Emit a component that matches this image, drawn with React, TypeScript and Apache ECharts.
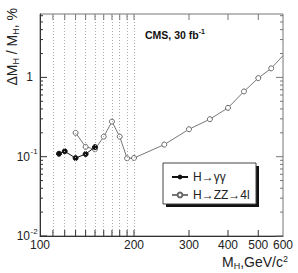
import React, { useEffect, useRef } from "react";
import * as echarts from "echarts";

// ---- data ----
const massGG = [115, 120, 130, 140, 150];
const resGG = [0.109, 0.117, 0.096, 0.108, 0.132];

const massZZ = [130, 140, 150, 160, 170, 180, 190, 200, 250, 300, 350, 400, 450, 500, 550, 600];
const resZZ = [0.2, 0.133, 0.124, 0.179, 0.277, 0.179, 0.0955, 0.0963, 0.142, 0.222, 0.297, 0.413, 0.665, 0.98, 1.3, 1.88];

const massGrid = [110, 120, 130, 140, 150, 160, 170, 180, 190, 200];
const xTickValues = [110, 120, 130, 140, 150, 160, 170, 180, 190, 200, 300, 400, 500];
const xLabelValues = [100, 200, 300, 400, 500, 600];
const yMajorTicks = [0.01, 0.1, 1];
const yMinorTicks = [0.02, 0.03, 0.04, 0.05, 0.06, 0.07, 0.08, 0.09, 0.2, 0.3, 0.4, 0.5, 0.6, 0.7, 0.8, 0.9, 2, 3, 4, 5, 6];
const yLabelValues = [0.01, 0.1, 1];
const yLabelBase = ["10", "10", "1"];
const yLabelExp = ["-2", "-1", ""];

const FONT = "Liberation Sans, Arial, Helvetica, sans-serif";
const AXIS = "#333";

export default function App() {
  const ref = useRef<HTMLDivElement>(null);
  useEffect(() => {
    if (!ref.current) return;
    const chart = echarts.init(ref.current, undefined, { renderer: "svg" });

    const tickSeries = (name: string, data: number[][], render: any) => ({
      type: "custom",
      name,
      data,
      silent: true,
      z: 5,
      clip: false,
      renderItem: render,
    });

    chart.setOption({
      animation: false,
      backgroundColor: "#fff",
      textStyle: { fontFamily: FONT },
      grid: {
        left: 40,
        right: 15,
        top: 14,
        bottom: 37,
        show: true,
        borderColor: "#777",
        borderWidth: 1,
      },
      xAxis: {
        type: "log",
        logBase: 10,
        min: 100,
        max: 600,
        axisLine: { show: true, lineStyle: { color: AXIS } },
        axisTick: { show: false },
        axisLabel: { show: false },
        splitLine: { show: false },
        minorTick: { show: false },
      },
      yAxis: {
        type: "log",
        logBase: 10,
        min: 0.01,
        max: 6.3,
        axisLine: { show: true, lineStyle: { color: AXIS } },
        axisTick: { show: false },
        axisLabel: { show: false },
        splitLine: { show: false },
      },
      legend: {
        data: ["H→γγ", "H→ZZ→4l"],
        orient: "vertical",
        left: 166,
        top: 166,
        itemWidth: 16,
        itemHeight: 6,
        itemGap: 6,
        z: 30,
        textStyle: { fontSize: 12, color: "#222", fontFamily: FONT },
      },
      graphic: [
        { type: "rect", z: 20, shape: { x: 166, y: 166, width: 93, height: 41 }, style: { fill: "#111" } },
        { type: "rect", z: 21, shape: { x: 163, y: 163, width: 93, height: 41 }, style: { fill: "#fff", stroke: "#444", lineWidth: 1 } },
        {
          type: "text",
          z: 25,
          x: 145,
          y: 35,
          style: {
            text: "{a|CMS, 30 fb}{p|-1}",
            verticalAlign: "middle",
            align: "left",
            rich: {
              a: { fontSize: 10.5, fontWeight: "bold", fontFamily: FONT, fill: "#111", lineHeight: 14 },
              p: { fontSize: 7, fontWeight: "bold", fontFamily: FONT, fill: "#111", lineHeight: 7, verticalAlign: "top" },
            },
          },
        },
        {
          type: "text",
          z: 25,
          x: 288,
          y: 262,
          style: {
            text: "{a|M}{s|H}{a|,GeV/c}{p|2}",
            verticalAlign: "middle",
            align: "right",
            rich: {
              a: { fontSize: 14, fontFamily: FONT, fill: "#222", lineHeight: 16 },
              s: { fontSize: 9, fontFamily: FONT, fill: "#222", lineHeight: 8, verticalAlign: "bottom" },
              p: { fontSize: 9, fontFamily: FONT, fill: "#222", lineHeight: 8, verticalAlign: "top" },
            },
          },
        },
        {
          type: "text",
          z: 25,
          x: 12,
          y: 8,
          rotation: Math.PI / 2,
          style: {
            text: "{a|ΔM}{s|H}{a| / M}{s|H}{a|, %}",
            verticalAlign: "middle",
            align: "right",
            rich: {
              a: { fontSize: 14, fontFamily: FONT, fill: "#222", lineHeight: 17 },
              s: { fontSize: 9, fontFamily: FONT, fill: "#222", lineHeight: 9, verticalAlign: "bottom" },
            },
          },
        },
      ],
      series: [
        {
          name: "H→γγ",
          type: "line",
          data: massGG.map((m, i) => [m, resGG[i]]),
          symbol: "circle",
          symbolSize: 5,
          z: 4,
          lineStyle: { color: "#111", width: 1 },
          itemStyle: { color: "#111", borderColor: "#111" },
          markLine: {
            silent: true,
            symbol: "none",
            label: { show: false },
            lineStyle: { type: [1, 2], color: "#aaa", width: 1 },
            data: massGrid.map((m) => ({ xAxis: m })),
          },
        },
        {
          name: "H→ZZ→4l",
          type: "line",
          data: massZZ.map((m, i) =>
            i === massZZ.length - 1 ? { value: [m, resZZ[i]], symbol: "none" } : [m, resZZ[i]]
          ),
          symbol: "circle",
          symbolSize: 5,
          z: 3,
          lineStyle: { color: "#777", width: 1 },
          itemStyle: { color: "#fff", borderColor: "#666", borderWidth: 1 },
        },
        tickSeries("xticks", xTickValues.map((v) => [v, 1]), (params: any, api: any) => {
          const cs = params.coordSys;
          const x = api.coord([api.value(0), 1])[0];
          const b = cs.y + cs.height;
          const t = cs.y;
          return {
            type: "group",
            children: [
              { type: "line", shape: { x1: x, y1: b, x2: x, y2: b - 6 }, style: { stroke: AXIS, lineWidth: 1 } },
              { type: "line", shape: { x1: x, y1: t, x2: x, y2: t + 6 }, style: { stroke: "#777", lineWidth: 1 } },
            ],
          };
        }),
        tickSeries("xlabels", xLabelValues.map((v) => [v, 1]), (params: any, api: any) => {
          const cs = params.coordSys;
          const x = api.coord([api.value(0), 1])[0];
          return {
            type: "text",
            x,
            y: cs.y + cs.height + 9,
            style: {
              text: String(api.value(0)),
              fontSize: 12,
              fontFamily: FONT,
              fill: "#222",
              align: "center",
              verticalAlign: "middle",
            },
          };
        }),
        tickSeries("ymajor", yMajorTicks.map((v) => [100, v]), (params: any, api: any) => {
          const cs = params.coordSys;
          const y = api.coord([100, api.value(1)])[1];
          const l = cs.x;
          const r = cs.x + cs.width;
          return {
            type: "group",
            children: [
              { type: "line", shape: { x1: l, y1: y, x2: l + 7, y2: y }, style: { stroke: AXIS, lineWidth: 1 } },
              { type: "line", shape: { x1: r, y1: y, x2: r - 7, y2: y }, style: { stroke: "#777", lineWidth: 1 } },
            ],
          };
        }),
        tickSeries("yminor", yMinorTicks.map((v) => [100, v]), (params: any, api: any) => {
          const cs = params.coordSys;
          const y = api.coord([100, api.value(1)])[1];
          const l = cs.x;
          const r = cs.x + cs.width;
          return {
            type: "group",
            children: [
              { type: "line", shape: { x1: l, y1: y, x2: l + 3, y2: y }, style: { stroke: AXIS, lineWidth: 1 } },
              { type: "line", shape: { x1: r, y1: y, x2: r - 3, y2: y }, style: { stroke: "#777", lineWidth: 1 } },
            ],
          };
        }),
        tickSeries("ylabels", yLabelValues.map((v) => [100, v]), (params: any, api: any) => {
          const cs = params.coordSys;
          const i = params.dataIndex;
          const y = api.coord([100, api.value(1)])[1];
          const exp = yLabelExp[i];
          const baseX = exp ? cs.x - 10 : cs.x - 7;
          const children: any[] = [
            {
              type: "text",
              x: baseX,
              y,
              style: { text: yLabelBase[i], fontSize: 12, fontFamily: FONT, fill: "#222", align: "right", verticalAlign: "middle" },
            },
          ];
          if (exp) {
            children.push({
              type: "text",
              x: baseX + 0.5,
              y: y - 5,
              style: { text: exp, fontSize: 8, fontFamily: FONT, fill: "#222", align: "left", verticalAlign: "middle" },
            });
          }
          return { type: "group", children };
        }),
      ],
    });
    return () => chart.dispose();
  }, []);
  return <div ref={ref} style={{ position: "fixed", left: 0, top: 0, width: 298, height: 273 }} />;
}
